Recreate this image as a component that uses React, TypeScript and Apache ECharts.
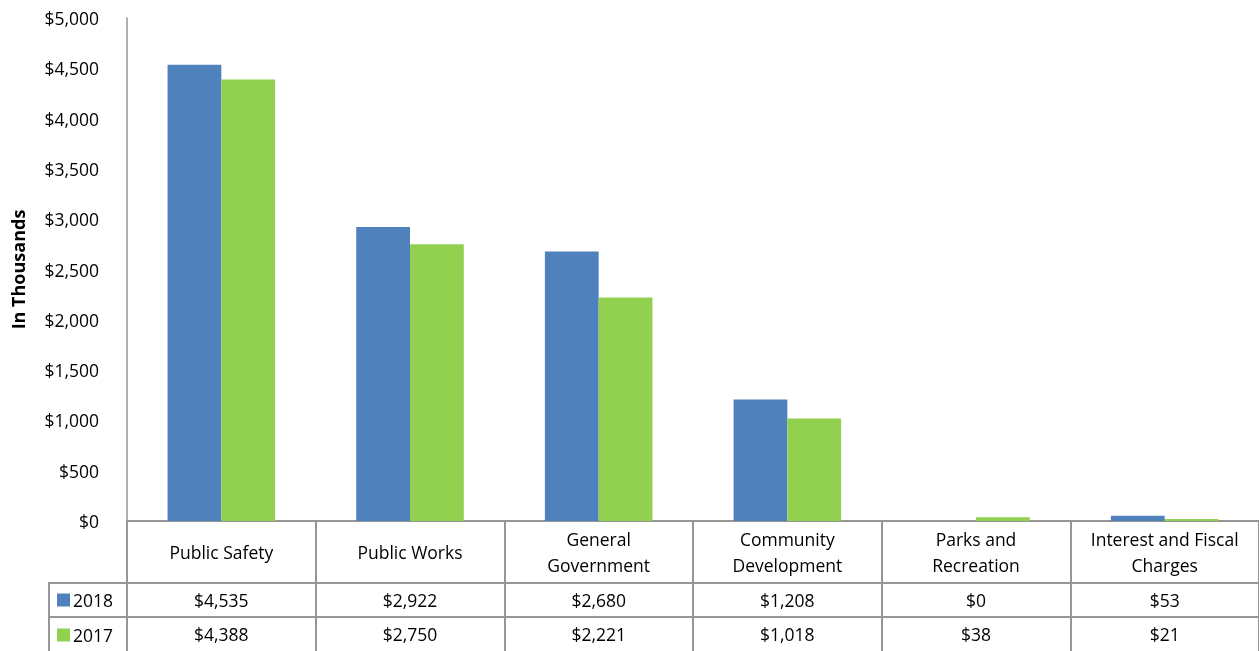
import React, { useEffect, useRef } from "react";
import * as echarts from "echarts";

const categories = [
  "Public Safety",
  "Public Works",
  "General\nGovernment",
  "Community\nDevelopment",
  "Parks and\nRecreation",
  "Interest and Fiscal\nCharges",
];
const values2018 = [4535, 2922, 2680, 1208, 0, 53];
const values2017 = [4388, 2750, 2221, 1018, 38, 21];
const yTicks = [0, 500, 1000, 1500, 2000, 2500, 3000, 3500, 4000, 4500, 5000];

const fmt = (v: number) => "$" + v.toLocaleString("en-US");

const FONT = "Open Sans";
const LINE = "#969696";

export default function App() {
  const ref = useRef<HTMLDivElement>(null);
  useEffect(() => {
    document.body.style.margin = "0";
    const chart = echarts.init(ref.current!, null, { renderer: "svg" });
    const rowAxis = (data: string[], offset: number, len: number) => ({
      type: "category" as const,
      data,
      position: "bottom" as const,
      offset,
      boundaryGap: true,
      axisLine: { show: true, lineStyle: { color: LINE, width: 2 } },
      axisTick: { show: true, length: len, lineStyle: { color: LINE, width: 2 } },
      axisLabel: {
        margin: len / 2,
        verticalAlign: "middle" as const,
        fontFamily: FONT,
        fontSize: 17.5,
        color: "#000",
        lineHeight: 26,
        interval: 0,
      },
    });
    chart.setOption({
      animation: false,
      textStyle: { fontFamily: FONT },
      grid: { left: 127, right: 0, top: 18, bottom: 130, containLabel: false },
      legend: {
        orient: "vertical",
        left: 57,
        top: 591,
        padding: 0,
        height: 60,
        itemWidth: 13,
        itemHeight: 13,
        itemGap: 17,
        icon: "rect",
        selectedMode: false,
        textStyle: { fontFamily: FONT, fontSize: 17.5, color: "#000", padding: [0, 0, 0, -2] },
        data: ["2018", "2017"],
      },
      xAxis: [
        rowAxis(categories, 0, 62),
        rowAxis(values2018.map(fmt), 62, 34),
        rowAxis(values2017.map(fmt), 96, 34),
      ],
      yAxis: {
        type: "value",
        min: 0,
        max: 5000,
        interval: 500,
        name: "In Thousands",
        nameLocation: "middle",
        nameGap: 100,
        nameTextStyle: { fontFamily: FONT, fontSize: 18, fontWeight: "bold", color: "#000" },
        axisLine: { show: true, lineStyle: { color: LINE, width: 1.5 } },
        axisTick: { show: false },
        splitLine: { show: false },
        axisLabel: {
          margin: 28,
          fontFamily: FONT,
          fontSize: 17.5,
          color: "#000",
          formatter: (v: number) => (yTicks.includes(v) ? fmt(v) : ""),
        },
      },
      series: [
        {
          name: "2018",
          type: "bar",
          xAxisIndex: 0,
          data: values2018,
          itemStyle: { color: "#4F81BD" },
          barGap: "0%",
          barCategoryGap: "43%",
        },
        {
          name: "2017",
          type: "bar",
          xAxisIndex: 0,
          data: values2017,
          itemStyle: { color: "#92D050" },
          barGap: "0%",
          barCategoryGap: "43%",
        },
      ],
      graphic: [
        { type: "line", shape: { x1: 48, y1: 583, x2: 127, y2: 583 }, style: { stroke: LINE, lineWidth: 2 } },
        { type: "line", shape: { x1: 48, y1: 617, x2: 127, y2: 617 }, style: { stroke: LINE, lineWidth: 2 } },
        { type: "line", shape: { x1: 49, y1: 582, x2: 49, y2: 651 }, style: { stroke: LINE, lineWidth: 2 } },
      ],
    });
    return () => chart.dispose();
  }, []);
  return <div ref={ref} style={{ position: "fixed", left: 0, top: 0, width: 1259, height: 651 }} />;
}
